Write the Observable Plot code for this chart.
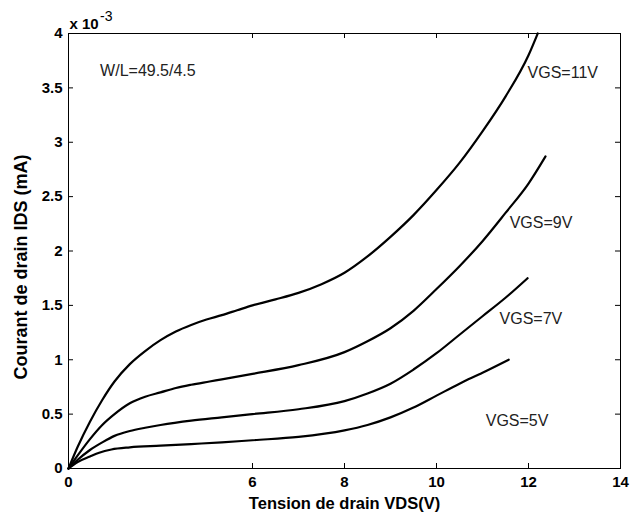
<!DOCTYPE html>
<html><head><meta charset="utf-8">
<script src="https://cdn.jsdelivr.net/npm/d3@7"></script>
<script src="https://cdn.jsdelivr.net/npm/@observablehq/plot@0.6"></script>
<style>body{margin:0;background:#fff}</style>
</head><body><div id="chart"></div>
<script>
// VDS (V) as labelled on the axis, IDS in units of 1e-3
const vds11 = [0, 0.3, 0.7, 1.1, 1.5, 2.0, 2.5, 3.0, 3.5, 4.0, 4.5, 5.0, 5.5, 6.0, 6.5, 7.0, 7.5, 8.0, 8.5, 9.0, 9.5, 10.0, 10.5, 11.0, 11.5, 12.0, 12.2];
const ids11 = [0, 0.2, 0.43, 0.63, 0.8, 0.96, 1.08, 1.18, 1.26, 1.32, 1.37, 1.41, 1.455, 1.5, 1.555, 1.615, 1.695, 1.8, 1.95, 2.13, 2.33, 2.56, 2.81, 3.1, 3.42, 3.8, 4.0];
const vds9 = [0, 0.3, 0.7, 1.1, 1.5, 2.0, 2.5, 3.0, 3.5, 4.0, 4.6, 5.0, 6.0, 7.0, 8.0, 8.5, 9.0, 9.5, 10.0, 10.5, 11.0, 11.5, 12.0, 12.37];
const ids9 = [0, 0.12, 0.27, 0.4, 0.5, 0.6, 0.66, 0.7, 0.74, 0.77, 0.8, 0.82, 0.87, 0.95, 1.07, 1.17, 1.29, 1.45, 1.65, 1.86, 2.09, 2.35, 2.62, 2.87];
const vds7 = [0, 0.3, 0.7, 1.1, 1.5, 2.0, 2.5, 3.0, 4.0, 5.0, 6.0, 7.0, 8.0, 8.5, 9.0, 9.5, 10.0, 10.5, 11.0, 11.5, 11.98];
const ids7 = [0, 0.08, 0.17, 0.24, 0.3, 0.345, 0.375, 0.4, 0.44, 0.47, 0.5, 0.545, 0.62, 0.69, 0.78, 0.91, 1.06, 1.23, 1.4, 1.57, 1.75];
const vds5 = [0, 0.3, 0.7, 1.0, 1.4, 2.0, 3.0, 4.0, 5.0, 6.0, 7.0, 8.0, 8.5, 9.0, 9.5, 10.0, 10.5, 11.0, 11.57];
const ids5 = [0, 0.06, 0.11, 0.145, 0.175, 0.195, 0.21, 0.225, 0.24, 0.26, 0.29, 0.35, 0.4, 0.47, 0.56, 0.67, 0.78, 0.88, 1.0];

const seriesNames = ["VGS=11V", "VGS=9V", "VGS=7V", "VGS=5V"];
const seriesX = [vds11, vds9, vds7, vds5];
const seriesY = [ids11, ids9, ids7, ids5];

// curve labels (position in data units)
const labelX = [11.98, 11.59, 11.37, 11.07];
const labelY = [3.64, 2.26, 1.38, 0.44];
const noteText = "W/L=49.5/4.5";
const noteX = 1.03, noteY = 3.66;

const xBreaks = [0, 6, 14];
const xTicks = [0, 6, 8, 10, 12, 14];
const yTicks = [0, 0.5, 1, 1.5, 2, 2.5, 3, 3.5, 4];
const xLabel = "Tension de drain VDS(V)";
const yLabel = "Courant de drain IDS (mA)";
const expBase = "x 10";
const expPow = "-3";

const rows = seriesNames.flatMap((s, i) => seriesX[i].map((x, j) => ({series: s, x, y: seriesY[i][j]})));
const labels = seriesNames.map((s, i) => ({text: s, x: labelX[i], y: labelY[i]}));

const W = 639, H = 515;
const mL = 68, mR = 19, mT = 33, mB = 47;
const left = mL, right = W - mR;
const plotW = W - mL - mR, plotH = H - mT - mB;
const tickLen = 5;

const font = "'Liberation Sans', Arial, Helvetica, sans-serif";

const chart = Plot.plot({
  width: W, height: H,
  marginLeft: mL, marginRight: mR, marginTop: mT, marginBottom: mB,
  style: {fontFamily: font, fontSize: "15px", background: "#fff", color: "#000", overflow: "visible"},
  x: {type: "linear", domain: xBreaks, range: [left, left + (right - left) / 3, right]},
  y: {type: "linear", domain: [0, 4]},
  marks: [
    Plot.frame({stroke: "#000", strokeWidth: 1}),
    Plot.axisX({anchor: "bottom", ticks: xTicks, tickSize: 0, tickPadding: 8, fontWeight: "bold", fontSize: 15, label: null}),
    Plot.axisY({anchor: "left", ticks: yTicks, tickSize: 0, tickPadding: 6, fontWeight: "bold", fontSize: 15, label: null, tickFormat: d => String(d)}),
    Plot.ruleX(xTicks, {x: d => d, insetTop: plotH - tickLen, stroke: "#000"}),
    Plot.ruleX(xTicks, {x: d => d, insetBottom: plotH - tickLen, stroke: "#000"}),
    Plot.ruleY(yTicks, {y: d => d, insetRight: plotW - tickLen, stroke: "#000"}),
    Plot.ruleY(yTicks, {y: d => d, insetLeft: plotW - tickLen, stroke: "#000"}),
    Plot.line(rows, {x: "x", y: "y", z: "series", stroke: "#000", strokeWidth: 2.2, curve: "monotone-x"}),
    Plot.text(labels, {x: "x", y: "y", text: "text", textAnchor: "start", lineAnchor: "middle", fontSize: 16, fill: "#222"}),
    Plot.text([noteText], {x: noteX, y: noteY, text: d => d, textAnchor: "start", lineAnchor: "middle", fontSize: 16, fill: "#222"}),
    Plot.text([xLabel], {frameAnchor: "bottom", text: d => d, dy: 35, textAnchor: "middle", lineAnchor: "middle", fontWeight: "bold", fontSize: 16.5}),
    Plot.text([yLabel], {frameAnchor: "left", text: d => d, rotate: -90, dx: -47, dy: 16, textAnchor: "middle", lineAnchor: "middle", fontWeight: "bold", fontSize: 18}),
    Plot.text([expBase], {frameAnchor: "top-left", text: d => d, dx: 1, dy: -5, textAnchor: "start", lineAnchor: "bottom", fontWeight: "bold", fontSize: 15}),
    Plot.text([expPow], {frameAnchor: "top-left", text: d => d, dx: 44, dy: -13, textAnchor: "end", lineAnchor: "bottom", fontSize: 14})
  ]
});
document.getElementById("chart").appendChild(chart);
</script>
</body></html>
